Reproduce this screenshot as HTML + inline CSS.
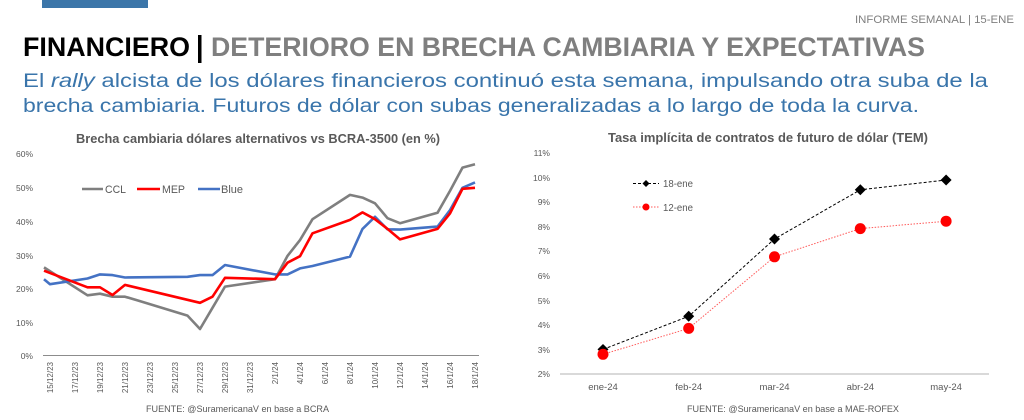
<!DOCTYPE html>
<html><head><meta charset="utf-8"><style>
html,body{margin:0;padding:0;background:#fff;}
svg{display:block;}
text{font-family:"Liberation Sans",sans-serif;}
</style></head><body>
<svg width="1024" height="420" viewBox="0 0 1024 420" xmlns="http://www.w3.org/2000/svg">
<rect x="0" y="0" width="1024" height="420" fill="#fff"/>
<rect x="42" y="0" width="106" height="8" fill="#3c76a9"/>
<text x="1014" y="23" font-size="11" fill="#7f7f7f" text-anchor="end" textLength="159" lengthAdjust="spacingAndGlyphs">INFORME SEMANAL | 15-ENE</text>

<text x="23" y="56" font-size="27" font-weight="bold" fill="#000" textLength="167" lengthAdjust="spacingAndGlyphs">FINANCIERO</text>
<rect x="198" y="35" width="3.5" height="28" fill="#000"/>
<text x="211" y="56" font-size="27" font-weight="bold" fill="#7f7f7f" textLength="714" lengthAdjust="spacingAndGlyphs">DETERIORO EN BRECHA CAMBIARIA Y EXPECTATIVAS</text>

<text x="23" y="87" font-size="19" fill="#3a75ab" textLength="965" lengthAdjust="spacingAndGlyphs">El <tspan font-style="italic">rally</tspan> alcista de los dólares financieros continuó esta semana, impulsando otra suba de la</text>
<text x="23" y="112" font-size="19" fill="#3a75ab" textLength="896" lengthAdjust="spacingAndGlyphs">brecha cambiaria. Futuros de dólar con subas generalizadas a lo largo de toda la curva.</text>

<!-- LEFT CHART -->
<text x="76" y="143" font-size="13" font-weight="bold" fill="#595959" textLength="364" lengthAdjust="spacingAndGlyphs">Brecha cambiaria dólares alternativos vs BCRA-3500 (en %)</text>
<g font-size="8.5" fill="#595959" text-anchor="end">
<text x="33" y="157">60%</text>
<text x="33" y="191">50%</text>
<text x="33" y="225">40%</text>
<text x="33" y="259">30%</text>
<text x="33" y="292">20%</text>
<text x="33" y="326">10%</text>
<text x="33" y="359">0%</text>
</g>
<line x1="43" y1="355.5" x2="479" y2="355.5" stroke="#8c8c8c" stroke-width="1"/>
<g font-size="8" fill="#595959" text-anchor="end">
<text transform="translate(53,362) rotate(-90)">15/12/23</text>
<text transform="translate(78,362) rotate(-90)">17/12/23</text>
<text transform="translate(103,362) rotate(-90)">19/12/23</text>
<text transform="translate(128,362) rotate(-90)">21/12/23</text>
<text transform="translate(153,362) rotate(-90)">23/12/23</text>
<text transform="translate(178,362) rotate(-90)">25/12/23</text>
<text transform="translate(203,362) rotate(-90)">27/12/23</text>
<text transform="translate(228,362) rotate(-90)">29/12/23</text>
<text transform="translate(253,362) rotate(-90)">31/12/23</text>
<text transform="translate(278,362) rotate(-90)">2/1/24</text>
<text transform="translate(303,362) rotate(-90)">4/1/24</text>
<text transform="translate(328,362) rotate(-90)">6/1/24</text>
<text transform="translate(353,362) rotate(-90)">8/1/24</text>
<text transform="translate(378,362) rotate(-90)">10/1/24</text>
<text transform="translate(403,362) rotate(-90)">12/1/24</text>
<text transform="translate(428,362) rotate(-90)">14/1/24</text>
<text transform="translate(453,362) rotate(-90)">16/1/24</text>
<text transform="translate(478,362) rotate(-90)">18/1/24</text>
</g>
<g fill="none" stroke-width="2.6" stroke-linejoin="round">
<polyline stroke="#7f7f7f" points="44,267.4 87.5,295.3 100,293.7 112.5,296.7 125,296.7 137.5,300.4 187.5,315.6 200,329 212.5,307.8 225,286.6 275,279.2 287.5,255.9 300,240.1 312.5,219.2 350,194.9 362.5,197.6 375,203.3 387.5,218.2 400,223.2 437.5,212.8 450,190.9 462.5,167.6 475,164.2"/>
<polyline stroke="#4472c4" points="44,279.2 50,284.2 87.5,278.5 100,274.4 112.5,275.1 125,277.5 187.5,276.8 200,275.1 212.5,275.1 225,265 275,274.4 287.5,274.4 300,268.4 312.5,266 350,256.6 362.5,228.9 375,216.8 387.5,229.3 400,229.6 437.5,226.6 450,210.1 462.5,187.8 475,182.4"/>
<polyline stroke="#ff0000" points="44,270.7 87.5,287.3 100,287.3 112.5,295 125,284.9 200,302.8 212.5,296.7 225,277.8 275,279.2 287.5,262.7 300,256.2 312.5,233.3 350,219.9 362.5,212.4 375,219.2 387.5,228.9 400,239.4 437.5,228.9 450,213.4 462.5,188.8 475,187.8"/>
</g>
<g stroke-width="2.6">
<line x1="82" y1="189" x2="103" y2="189" stroke="#7f7f7f"/>
<line x1="137" y1="189" x2="160" y2="189" stroke="#ff0000"/>
<line x1="198" y1="189" x2="220" y2="189" stroke="#4472c4"/>
</g>
<g font-size="11" fill="#595959">
<text x="105" y="193" textLength="21" lengthAdjust="spacingAndGlyphs">CCL</text>
<text x="162" y="193" textLength="23" lengthAdjust="spacingAndGlyphs">MEP</text>
<text x="221" y="193" textLength="22" lengthAdjust="spacingAndGlyphs">Blue</text>
</g>
<text x="146" y="412" font-size="9.5" fill="#595959" textLength="183" lengthAdjust="spacingAndGlyphs">FUENTE: @SuramericanaV en base a BCRA</text>

<!-- RIGHT CHART -->
<text x="608" y="142" font-size="13" font-weight="bold" fill="#595959" textLength="320" lengthAdjust="spacingAndGlyphs">Tasa implícita de contratos de futuro de dólar (TEM)</text>
<g font-size="8.5" fill="#595959" text-anchor="end">
<text x="550" y="156">11%</text>
<text x="550" y="181">10%</text>
<text x="550" y="205">9%</text>
<text x="550" y="230">8%</text>
<text x="550" y="254">7%</text>
<text x="550" y="279">6%</text>
<text x="550" y="304">5%</text>
<text x="550" y="328">4%</text>
<text x="550" y="353">3%</text>
<text x="550" y="377">2%</text>
</g>
<line x1="560" y1="374" x2="989" y2="374" stroke="#d9d9d9" stroke-width="2"/>
<g font-size="9.5" fill="#595959" text-anchor="middle">
<text x="603" y="390">ene-24</text>
<text x="688.7" y="390">feb-24</text>
<text x="774.5" y="390">mar-24</text>
<text x="860.3" y="390">abr-24</text>
<text x="946.1" y="390">may-24</text>
</g>
<polyline fill="none" stroke="#000" stroke-width="1" stroke-dasharray="3,2" points="603,349.4 688.7,316.3 774.5,239 860.3,189.8 946.1,180"/>
<polyline fill="none" stroke="#ff5a5a" stroke-width="1" stroke-dasharray="1.5,1.5" points="603,354.3 688.7,328.4 774.5,256.8 860.3,228.6 946.1,221.2"/>
<g fill="#000">
<polygon points="603,344 608.5,349.4 603,354.8 597.5,349.4"/>
<polygon points="688.7,310.8 694.2,316.3 688.7,321.8 683.2,316.3"/>
<polygon points="774.5,233.5 780,239 774.5,244.5 769,239"/>
<polygon points="860.3,184.3 865.8,189.8 860.3,195.3 854.8,189.8"/>
<polygon points="946.1,174.5 951.6,180 946.1,185.5 940.6,180"/>
</g>
<g fill="#ff0000">
<circle cx="603" cy="354.3" r="5.5"/>
<circle cx="688.7" cy="328.4" r="5.5"/>
<circle cx="774.5" cy="256.8" r="5.5"/>
<circle cx="860.3" cy="228.6" r="5.5"/>
<circle cx="946.1" cy="221.2" r="5.5"/>
</g>
<line x1="633" y1="183.5" x2="659" y2="183.5" stroke="#000" stroke-width="1" stroke-dasharray="3,2"/>
<polygon points="646,180 649.5,183.5 646,187 642.5,183.5" fill="#000"/>
<line x1="633" y1="207" x2="659" y2="207" stroke="#ff5a5a" stroke-width="1" stroke-dasharray="1.5,1.5"/>
<circle cx="646" cy="207" r="3.5" fill="#ff0000"/>
<g font-size="10" fill="#595959">
<text x="663" y="187" textLength="30" lengthAdjust="spacingAndGlyphs">18-ene</text>
<text x="663" y="211" textLength="30" lengthAdjust="spacingAndGlyphs">12-ene</text>
</g>
<text x="687" y="412" font-size="9.5" fill="#595959" textLength="212" lengthAdjust="spacingAndGlyphs">FUENTE: @SuramericanaV en base a MAE-ROFEX</text>
</svg>
</body></html>
